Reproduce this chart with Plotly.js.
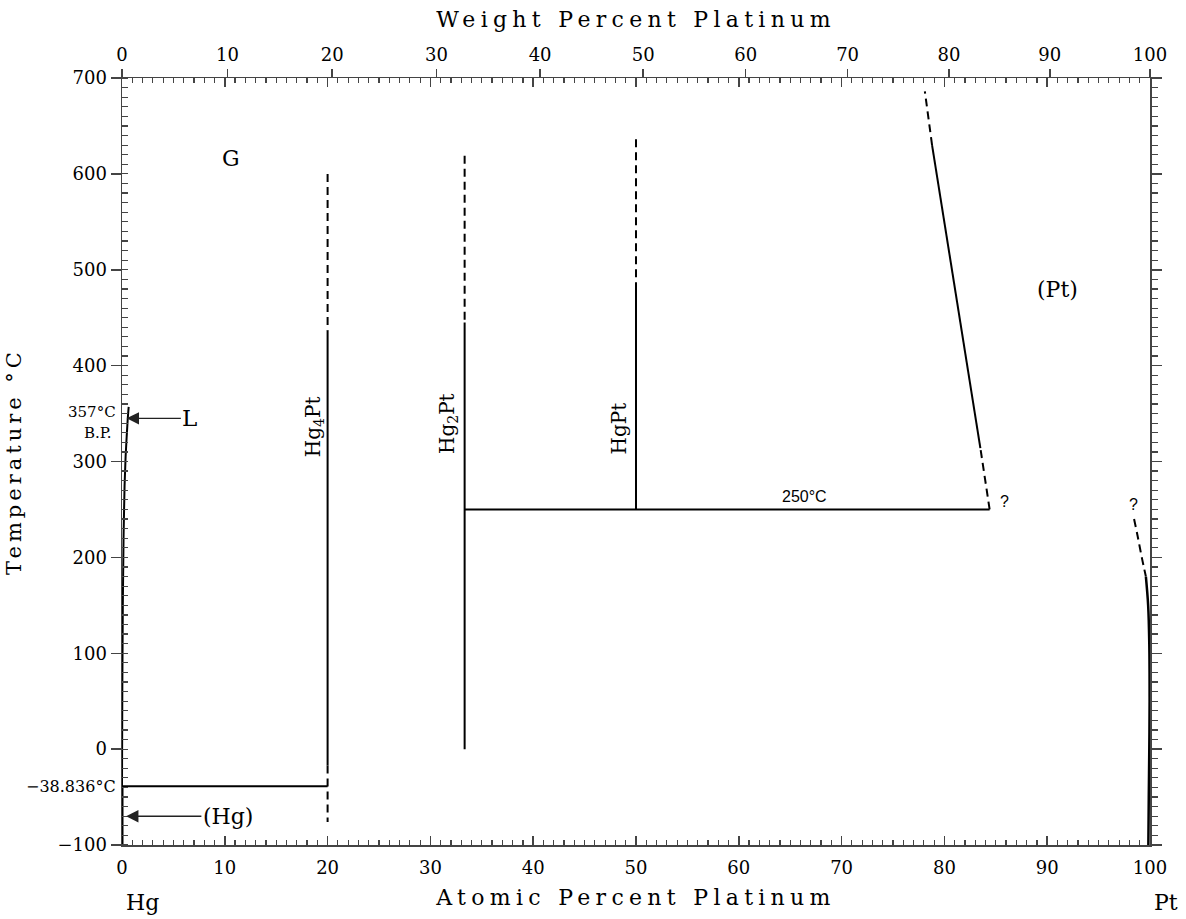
<!DOCTYPE html>
<html>
<head>
<meta charset="utf-8">
<script src="https://cdn.plot.ly/plotly-3.0.1.min.js"></script>
<style>html,body{margin:0;padding:0;background:#fff;}</style>
</head>
<body>
<div id="chart" style="width:1186px;height:919px;"></div>
<script>
// ---------- data (atomic % Pt, temperature °C) ----------
const hgLiquidusX = [0, 0.03, 0.08, 0.15, 0.25, 0.35, 0.45, 0.55, 0.65];
const hgLiquidusT = [-38.836, 60, 150, 220, 275, 305, 325, 343, 357];
const hgSolidX = [0, 0];
const hgSolidT = [-100, -38.836];
const eutecticX = [0, 20];
const eutecticT = [-38.836, -38.836];
const hg4ptX = [20, 20];
const hg4ptSolidT = [437, -17];
const hg4ptDashTopT = [600, 437];
const hg4ptDashLowT = [-17, -76];
const hg2ptX = [33.33, 33.33];
const hg2ptSolidT = [445, 0];
const hg2ptDashT = [619, 445];
const hgptX = [50, 50];
const hgptSolidT = [484, 250];
const hgptDashT = [636, 484];
const peritecticX = [33.33, 84.4];
const peritecticT = [250, 250];
const ptSolvusSolidX = [83.5, 78.8];
const ptSolvusSolidT = [314, 630];
const ptSolvusDashLowX = [84.4, 83.5];
const ptSolvusDashLowT = [250, 314];
const ptSolvusDashTopX = [78.8, 78.1];
const ptSolvusDashTopT = [630, 686];
const ptRightDashX = [98.45, 98.8, 99.2, 99.6];
const ptRightDashT = [240, 222, 200, 180];
const ptRightSolidX = [99.6, 99.82, 99.93, 99.96, 99.93, 99.88, 99.84];
const ptRightSolidT = [180, 150, 110, 50, 0, -50, -100];

const atomicTicks = [0, 10, 20, 30, 40, 50, 60, 70, 80, 90, 100];
const weightTicks = [0, 10, 20, 30, 40, 50, 60, 70, 80, 90, 100];
const tempTicks = [-100, 0, 100, 200, 300, 400, 500, 600, 700];
const massHg = 200.59, massPt = 195.08;
// position of each weight-percent tick on the atomic-percent scale
const weightTickPos = weightTicks.map(w => {
  const a = w / massPt, b = (100 - w) / massHg;
  return 100 * a / (a + b);
});

const serif = "DejaVu Serif";
const sans = "Liberation Sans";
const ink = "#000";
const axisInk = "#444";

function seg(x, y, dash, w) {
  return {x: x, y: y, type: "scatter", mode: "lines", hoverinfo: "skip", showlegend: false,
          line: {color: ink, width: w || 2, dash: dash ? "8px,5px" : "solid"}};
}

const traces = [
  seg(hgSolidX, hgSolidT, false, 3),
  Object.assign(seg(hgLiquidusX, hgLiquidusT, false, 2), {line: {color: ink, width: 2, shape: "spline"}}),
  seg(eutecticX, eutecticT, false),
  seg(hg4ptX, hg4ptSolidT, false),
  seg(hg4ptX, hg4ptDashTopT, true),
  seg(hg4ptX, hg4ptDashLowT, true),
  seg(hg2ptX, hg2ptSolidT, false),
  seg(hg2ptX, hg2ptDashT, true),
  seg(hgptX, hgptSolidT, false),
  seg(hgptX, hgptDashT, true),
  seg(peritecticX, peritecticT, false),
  seg(ptSolvusSolidX, ptSolvusSolidT, false),
  seg(ptSolvusDashLowX, ptSolvusDashLowT, true),
  seg(ptSolvusDashTopX, ptSolvusDashTopT, true),
  Object.assign(seg(ptRightDashX, ptRightDashT, true), {line: {color: ink, width: 2, dash: "8px,5px", shape: "spline"}}),
  Object.assign(seg(ptRightSolidX, ptRightSolidT, false, 2.5), {line: {color: ink, width: 2.5, shape: "spline"}}),
  {x: [null], y: [null], xaxis: "x2", yaxis: "y", type: "scatter", mode: "lines", showlegend: false, hoverinfo: "skip"},
  {x: [null], y: [null], xaxis: "x", yaxis: "y2", type: "scatter", mode: "lines", showlegend: false, hoverinfo: "skip"}
];

function lab(text, x, y, size, font, extra) {
  return Object.assign({text: text, x: x, y: y, xref: "x", yref: "y", showarrow: false,
    font: {family: font || serif, size: size || 22, color: ink}}, extra || {});
}

const annotations = [
  lab("G", 10.6, 616, 22),
  lab("(Pt)", 91.0, 479, 22),
  lab("Hg<sub>4</sub>Pt", 18.7, 336, 20, serif, {textangle: -90}),
  lab("Hg<sub>2</sub>Pt", 31.7, 340, 20, serif, {textangle: -90}),
  lab("HgPt", 48.3, 334, 20, serif, {textangle: -90}),
  lab("250°C", 66.4, 263, 16, sans),
  lab("?", 85.8, 258, 16, sans),
  lab("?", 98.35, 255, 16, sans),
  lab("L", 0.45, 345, 23, serif, {showarrow: true, axref: "x", ayref: "y", ax: 6.6, ay: 345,
       arrowhead: 2, arrowsize: 1.9, arrowwidth: 1.3, arrowcolor: "#222"}),
  lab("(Hg)", 0.4, -70, 22, serif, {showarrow: true, axref: "x", ayref: "y", ax: 10.3, ay: -70,
       arrowhead: 2, arrowsize: 1.9, arrowwidth: 1.3, arrowcolor: "#222"}),
  {text: "357°C", xref: "paper", yref: "y", x: -0.004, y: 352, xanchor: "right", yanchor: "middle", showarrow: false,
   font: {family: serif, size: 15, color: ink}},
  {text: "B.P.", xref: "paper", yref: "y", x: -0.008, y: 330, xanchor: "right", yanchor: "middle", showarrow: false,
   font: {family: serif, size: 15, color: ink}},
  {text: "\u221238.836°C", xref: "paper", yref: "y", x: -0.004, y: -38.836, xanchor: "right", yanchor: "middle", showarrow: false,
   font: {family: serif, size: 16, color: ink}},
  {text: "Hg", xref: "paper", yref: "paper", x: 0.0195, y: -0.0756, xanchor: "center", yanchor: "middle", showarrow: false,
   font: {family: serif, size: 22, color: ink}},
  {text: "Pt", xref: "paper", yref: "paper", x: 1.0156, y: -0.0756, xanchor: "center", yanchor: "middle", showarrow: false,
   font: {family: serif, size: 22, color: ink}}
];

const tickFont = {family: serif, size: 18, color: ink};
const xTitleFont = {family: serif, size: 22, color: ink};
const yTitleFont = {family: serif, size: 21, color: ink};

const layout = {
  width: 1186, height: 919, autosize: false,
  margin: {l: 122, r: 36, t: 78, b: 74, pad: 0},
  paper_bgcolor: "#fff", plot_bgcolor: "#fff",
  showlegend: false,
  xaxis: {
    range: [0, 100], tickmode: "array", tickvals: atomicTicks, ticktext: atomicTicks.map(String),
    ticks: "inside", ticklen: 9, tickwidth: 1.5, tickcolor: axisInk, ticklabelstandoff: 6,
    minor: {ticks: "inside", dtick: 1, ticklen: 5, tickwidth: 1.2, tickcolor: axisInk},
    showline: true, linecolor: axisInk, linewidth: 1.5, mirror: "ticks",
    showgrid: false, zeroline: false, tickfont: tickFont,
    title: {text: "Atomic Percent Platinum", font: xTitleFont, standoff: 12}
  },
  xaxis2: {
    range: [0, 100], overlaying: "x", side: "top", anchor: "y",
    tickmode: "array", tickvals: weightTickPos, ticktext: weightTicks.map(String),
    ticks: "outside", ticklen: 8, tickwidth: 1.5, tickcolor: axisInk,
    showline: true, linecolor: axisInk, linewidth: 1.5,
    showgrid: false, zeroline: false, tickfont: tickFont,
    title: {text: "Weight Percent Platinum", font: xTitleFont, standoff: 10}
  },
  yaxis: {
    range: [-100, 700], tickmode: "array", tickvals: tempTicks, ticktext: tempTicks.map(v => v < 0 ? "\u2212" + Math.abs(v) : String(v)),
    ticks: "outside", ticklen: 10, tickwidth: 1.5, tickcolor: axisInk,
    minor: {ticks: "inside", dtick: 10, ticklen: 6, tickwidth: 1.2, tickcolor: axisInk},
    showline: true, linecolor: axisInk, linewidth: 1.5,
    showgrid: false, zeroline: false, tickfont: tickFont,
    title: {text: "Temperature °C", font: yTitleFont, standoff: 30}
  },
  yaxis2: {
    range: [-100, 700], overlaying: "y", side: "right", anchor: "x",
    tickmode: "array", tickvals: tempTicks, showticklabels: false,
    ticks: "outside", ticklen: 10, tickwidth: 1.5, tickcolor: axisInk,
    minor: {ticks: "outside", dtick: 10, ticklen: 6, tickwidth: 1.2, tickcolor: axisInk},
    showline: true, linecolor: axisInk, linewidth: 1.5,
    showgrid: false, zeroline: false
  },
  annotations: annotations
};

Plotly.newPlot("chart", traces, layout, {staticPlot: true, displayModeBar: false}).then(() => {
  document.querySelectorAll(".g-xtitle text, .g-x2title text").forEach(el => {
    el.style.letterSpacing = "5.3px";
  });
  document.querySelectorAll(".g-ytitle text").forEach(el => {
    el.style.letterSpacing = "4px";
  });
});
</script>
</body>
</html>
